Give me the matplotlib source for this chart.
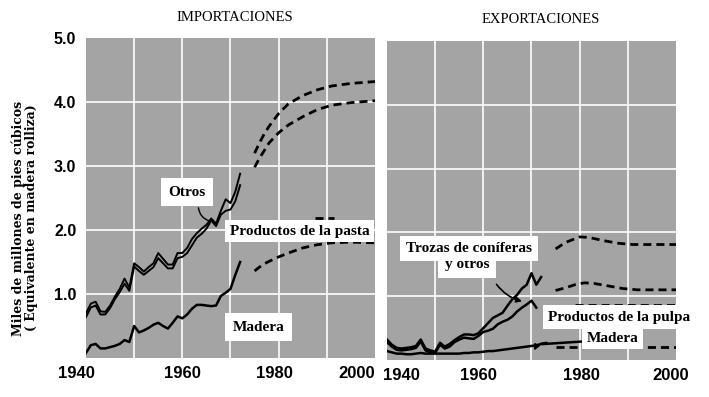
import matplotlib
matplotlib.use("Agg")
import matplotlib.pyplot as plt
from matplotlib.transforms import ScaledTranslation

# ---------------- data ----------------
years_hist = list(range(1940, 1973))

# IMPORTACIONES
imp_otros = [0.70, 0.85, 0.88, 0.73, 0.72, 0.82, 0.96, 1.08, 1.24, 1.10, 1.48, 1.42, 1.35,
             1.42, 1.48, 1.64, 1.55, 1.46, 1.46, 1.64, 1.64, 1.72, 1.86, 1.95, 2.02, 2.08,
             2.18, 2.10, 2.30, 2.48, 2.42, 2.60, 2.88]
imp_pasta = [0.64, 0.79, 0.82, 0.68, 0.68, 0.78, 0.92, 1.03, 1.16, 1.05, 1.43, 1.36, 1.30,
             1.36, 1.42, 1.56, 1.48, 1.40, 1.40, 1.56, 1.58, 1.64, 1.76, 1.88, 1.94, 2.02,
             2.15, 2.06, 2.24, 2.30, 2.32, 2.45, 2.70]
imp_madera = [0.08, 0.20, 0.22, 0.15, 0.15, 0.17, 0.19, 0.22, 0.28, 0.25, 0.50, 0.40, 0.43,
              0.47, 0.52, 0.55, 0.50, 0.46, 0.55, 0.65, 0.62, 0.68, 0.77, 0.83, 0.83, 0.82,
              0.81, 0.82, 0.97, 1.02, 1.08, 1.30, 1.50]

years_proj = [1975, 1976, 1977, 1978, 1980, 1982, 1985, 1988, 1991, 1995, 2000]
imp_otros_proj = [3.20, 3.36, 3.50, 3.62, 3.82, 3.97, 4.10, 4.19, 4.25, 4.29, 4.32]
imp_pasta_proj = [2.98, 3.12, 3.24, 3.36, 3.52, 3.64, 3.77, 3.88, 3.95, 3.99, 4.02]
imp_madera_proj = [1.36, 1.42, 1.47, 1.51, 1.58, 1.64, 1.72, 1.77, 1.80, 1.81, 1.80]
years_hidden_imp = [1987.5, 1991.5]
imp_hidden = [2.19, 2.19]

# EXPORTACIONES
years_exp = list(range(1940, 1973))
exp_trozas = [0.32, 0.24, 0.19, 0.18, 0.19, 0.20, 0.22, 0.32, 0.18, 0.15, 0.13, 0.27, 0.21,
              0.25, 0.31, 0.36, 0.40, 0.40, 0.39, 0.42, 0.50, 0.58, 0.66, 0.70, 0.74, 0.85,
              0.95, 1.02, 1.12, 1.18, 1.36, 1.18, 1.30]
years_pulpa = list(range(1940, 1972))
exp_pulpa = [0.28, 0.21, 0.16, 0.15, 0.16, 0.17, 0.19, 0.29, 0.15, 0.12, 0.11, 0.24, 0.18,
             0.21, 0.28, 0.32, 0.35, 0.34, 0.33, 0.38, 0.44, 0.46, 0.49, 0.56, 0.60, 0.63,
             0.68, 0.76, 0.82, 0.87, 0.93, 0.82]
exp_madera = [0.14, 0.12, 0.10, 0.10, 0.09, 0.09, 0.10, 0.11, 0.10, 0.10, 0.10, 0.10, 0.10,
              0.10, 0.10, 0.10, 0.11, 0.11, 0.12, 0.12, 0.13, 0.14, 0.14, 0.15, 0.16, 0.17,
              0.18, 0.19, 0.20, 0.21, 0.22, 0.23, 0.25]

years_exp_proj1 = [1975, 1977, 1980, 1982, 1985, 1988, 1991, 1995, 2000]
exp_trozas_proj = [1.74, 1.84, 1.93, 1.92, 1.87, 1.83, 1.81, 1.81, 1.81]
years_exp_proj2 = [1975, 1977, 1979, 1981, 1983, 1986, 1989, 1992, 1996, 2000]
exp_pulpa_proj = [1.09, 1.13, 1.18, 1.21, 1.20, 1.16, 1.12, 1.10, 1.10, 1.10]
years_exp_proj3 = [1979, 2000]
exp_hidden_proj = [0.86, 0.86]
years_exp_proj4 = [1975, 2000]
exp_madera_proj = [0.21, 0.21]

x_ticks = [1940, 1960, 1980, 2000]
y_ticks = [1.0, 2.0, 3.0, 4.0, 5.0]

# ---------------- style ----------------
BG = "#a4a4a4"
SERIF = ["Liberation Serif", "DejaVu Serif"]
SANS = ["Liberation Sans", "DejaVu Sans"]
LW = 1.8
PLW = 1.4
DLW = 2.0
DASH = (0, (2.9, 1.8))

fig = plt.figure(figsize=(7.09, 3.97), dpi=100)
axL = fig.add_axes([86 / 709, 1 - 358 / 397, 289 / 709, 320 / 397])
axR = fig.add_axes([387 / 709, 1 - 360 / 397, 289 / 709, 319 / 397])


def style(ax, label_offsets):
    ax.set_facecolor(BG)
    ax.set_xlim(1940, 2000)
    ax.set_ylim(0, 5)
    for s in ax.spines.values():
        s.set_visible(False)
    for x in range(1950, 2000, 10):
        ax.axvline(x, color="white", lw=1.2, zorder=1)
    for y in [1, 2, 3, 4]:
        ax.axhline(y, color="white", lw=1.2, zorder=1)
    ax.set_xticks(x_ticks)
    ax.set_xticklabels([str(t) for t in x_ticks])
    ax.tick_params(length=0, pad=6)
    for lab, off in zip(ax.get_xticklabels(), label_offsets):
        lab.set_fontfamily(SANS)
        lab.set_fontweight("bold")
        lab.set_fontsize(12)
        lab.set_transform(lab.get_transform() + ScaledTranslation(off / 100, 0, fig.dpi_scale_trans))


style(axL, [-10, 0, -4, -18])
style(axR, [14, -5, 2, -5])

axL.set_yticks(y_ticks)
axL.set_yticklabels([f"{v:.1f}" for v in y_ticks], fontfamily=SANS, fontweight="bold", fontsize=11.5)
axL.tick_params(axis="y", pad=7)
axR.set_yticks([])

# imports
axL.plot(years_hist, imp_otros, color="black", lw=PLW, zorder=3)
axL.plot(years_hist, imp_pasta, color="black", lw=PLW, zorder=3)
axL.plot(years_hist, imp_madera, color="black", lw=LW, zorder=3)
axL.plot(years_proj, imp_otros_proj, color="black", lw=DLW, ls=DASH, zorder=3)
axL.plot(years_proj, imp_pasta_proj, color="black", lw=DLW, ls=DASH, zorder=3)
axL.plot(years_proj, imp_madera_proj, color="black", lw=DLW, ls=DASH, zorder=3)
axL.plot(years_hidden_imp, imp_hidden, color="black", lw=DLW, ls=DASH, zorder=3)

# exports
axR.plot(years_exp, exp_trozas, color="black", lw=LW, zorder=3)
axR.plot(years_pulpa, exp_pulpa, color="black", lw=LW, zorder=3)
axR.plot(years_exp, exp_madera, color="black", lw=LW, zorder=3)
axR.plot(years_exp_proj1, exp_trozas_proj, color="black", lw=DLW, ls=DASH, zorder=3)
axR.plot(years_exp_proj2, exp_pulpa_proj, color="black", lw=DLW, ls=DASH, zorder=3)
axR.plot(years_exp_proj3, exp_hidden_proj, color="black", lw=DLW, ls=DASH, zorder=3)
axR.plot(years_exp_proj4, exp_madera_proj, color="black", lw=DLW, ls=DASH, zorder=3)

box = dict(boxstyle="square,pad=0.5", fc="white", ec="none")
tk = dict(fontfamily=SERIF, fontweight="bold", fontsize=11, ha="center", va="center",
          zorder=5, bbox=box)

axL.text(1961.0, 2.59, "Otros", **tk)
axL.text(1984.4, 1.98, "Productos de la pasta", **dict(tk, bbox=dict(boxstyle="square,pad=0.3", fc="white", ec="none")))
axL.text(1975.8, 0.48, "Madera", **tk)

axR.text(1956.6, 1.50, "y otros", **dict(tk, bbox=dict(boxstyle="square,pad=0.45", fc="white", ec="none")))
axR.text(1957.1, 1.75, "Trozas de coníferas", **dict(tk, bbox=dict(boxstyle="square,pad=0.4", fc="white", ec="none")))
axR.text(1988.2, 0.67, "Productos de la pulpa", **dict(tk, bbox=dict(boxstyle="square,pad=0.35", fc="white", ec="none")))
axR.text(1986.9, 0.34, "Madera", **dict(tk, bbox=dict(boxstyle="square,pad=0.3", fc="white", ec="none")))

# leader lines / arrows
axL.annotate("", xy=(1966.2, 2.13), xytext=(1963.3, 2.39),
             arrowprops=dict(arrowstyle="-", color="black", lw=1.0,
                             connectionstyle="arc3,rad=0.4"), zorder=4)
axR.annotate("", xy=(1968.6, 0.91), xytext=(1962.4, 1.22),
             arrowprops=dict(arrowstyle="-|>", color="black", lw=1.2, mutation_scale=8,
                             connectionstyle="arc3,rad=0.2"), zorder=4)
axR.plot([1972.4, 1980.6], [0.25, 0.29], color="black", lw=LW, zorder=3)
axR.annotate("", xy=(1970.3, 0.11), xytext=(1973.8, 0.27),
             arrowprops=dict(arrowstyle="-|>", color="black", lw=1.2, mutation_scale=8,
                             connectionstyle="arc3,rad=0.4"), zorder=4)

# titles and y label
fig.text(235 / 709, 1 - 17.5 / 397, "IMPORTACIONES", fontfamily=SERIF, fontsize=10.5,
         ha="center", va="center")
fig.text(541 / 709, 1 - 19.5 / 397, "EXPORTACIONES", fontfamily=SERIF, fontsize=10.5,
         ha="center", va="center")
fig.text(25 / 709, 1 - 218 / 397,
         "Miles de millones de pies cúbicos\n( Equivalente en madera rolliza)",
         fontfamily=["DejaVu Serif"], fontweight="bold", fontsize=9, rotation=90,
         ha="center", va="center", linespacing=1.0, multialignment="center")

fig.savefig("out.png", dpi=100, facecolor="white")
